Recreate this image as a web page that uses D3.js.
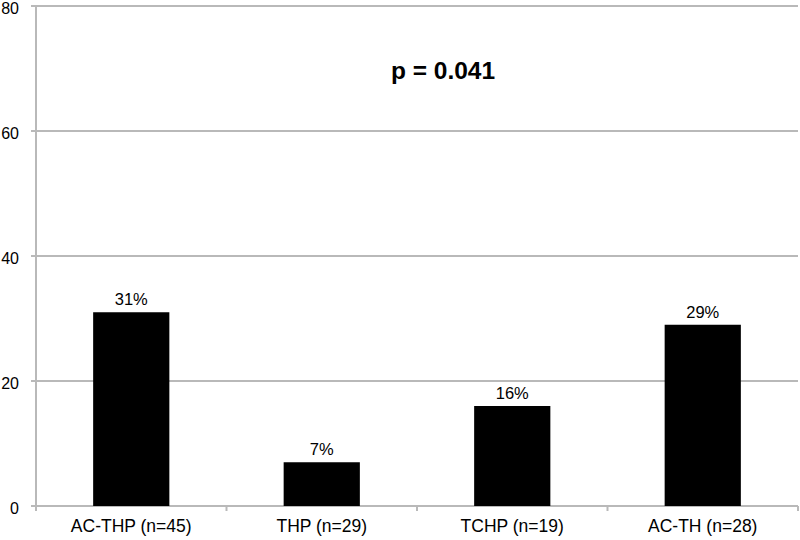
<!DOCTYPE html>
<html><head><meta charset="utf-8">
<script src="https://cdn.jsdelivr.net/npm/d3@7"></script>
<style>body{margin:0;background:#fff}svg{display:block;font-family:"Liberation Sans",Arial,sans-serif}</style>
</head><body><svg id="c" width="800" height="540"></svg>
<script>
const categories = ["AC-THP (n=45)", "THP (n=29)", "TCHP (n=19)", "AC-TH (n=28)"];
const values = [31, 7, 16, 29];
const valueLabels = ["31%", "7%", "16%", "29%"];
const yTicks = [0, 20, 40, 60, 80];
const annotation = "p = 0.041";

const svg = d3.select("#c");
const m = {left: 36, right: 2, top: 6, bottom: 34};
const W = 800, H = 540;
const x = d3.scaleBand().domain(categories).range([m.left, W - m.right]).paddingInner(0.6).paddingOuter(0.3);
const xb = d3.scaleBand().domain(categories).range([m.left, W - m.right]);
const y = d3.scaleLinear().domain([0, 80]).range([H - m.bottom, m.top]);
const grid = "#b9b9b9";

// gridlines
svg.append("g").selectAll("line").data(yTicks).join("line")
  .attr("x1", m.left - 5).attr("x2", W - m.right)
  .attr("y1", d => y(d)).attr("y2", d => y(d))
  .attr("stroke", grid).attr("stroke-width", 2);
// y tick labels
svg.append("g").selectAll("text").data(yTicks).join("text")
  .attr("x", 19).attr("y", d => y(d) + 8)
  .attr("text-anchor", "end").attr("font-size", 16).attr("fill", "#000")
  .text(d => d);
// y axis line
svg.append("line").attr("x1", m.left).attr("x2", m.left).attr("y1", y(80)).attr("y2", y(0) + 5)
  .attr("stroke", grid).attr("stroke-width", 2);
// x ticks at band boundaries
const bounds = categories.map(c => xb(c)).concat([xb(categories[3]) + xb.bandwidth()]);
svg.append("g").selectAll("line").data(bounds.slice(1)).join("line")
  .attr("x1", d => Math.min(d, W - 1)).attr("x2", d => Math.min(d, W - 1))
  .attr("y1", y(0)).attr("y2", y(0) + 5).attr("stroke", grid).attr("stroke-width", 2);

// bars
svg.append("g").selectAll("rect").data(categories).join("rect")
  .attr("x", d => x(d)).attr("width", x.bandwidth())
  .attr("y", (d, i) => y(values[i])).attr("height", (d, i) => y(0) - y(values[i]))
  .attr("fill", "#000");
// value labels
svg.append("g").selectAll("text").data(categories).join("text")
  .attr("x", d => x(d) + x.bandwidth() / 2).attr("y", (d, i) => y(values[i]) - 7)
  .attr("text-anchor", "middle").attr("font-size", 16.5).text((d, i) => valueLabels[i]);
// category labels
svg.append("g").selectAll("text").data(categories).join("text")
  .attr("x", d => xb(d) + xb.bandwidth() / 2).attr("y", 532)
  .attr("text-anchor", "middle").attr("font-size", 17.5).text(d => d);
// annotation
svg.append("text").attr("x", 443).attr("y", 79).attr("text-anchor", "middle")
  .attr("font-size", 24.5).attr("font-weight", "bold").text(annotation);
</script></body></html>
